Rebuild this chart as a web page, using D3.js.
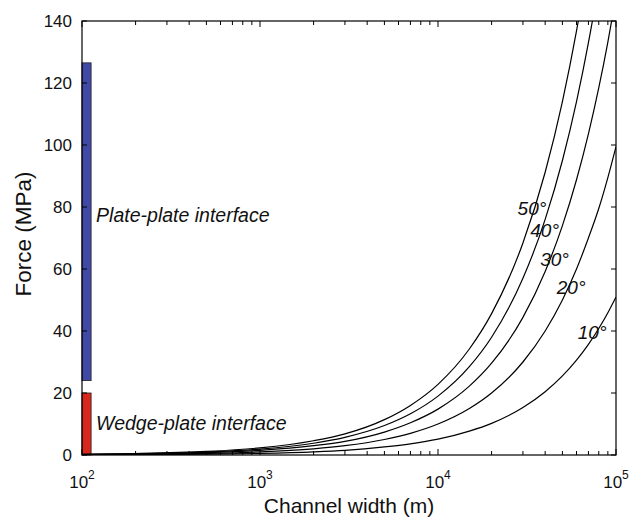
<!DOCTYPE html>
<html>
<head>
<meta charset="utf-8">
<script src="https://cdn.jsdelivr.net/npm/d3@7"></script>
<style>
  html, body { margin: 0; padding: 0; background: #fff; }
  svg { display: block; font-family: "Liberation Sans", Arial, Helvetica, sans-serif; }
</style>
</head>
<body>
<svg id="chart" width="630" height="520"></svg>
<script>
// Channel width (m) sampled along each dip-angle curve
const widths = [100, 200, 500, 1000, 2000, 3000, 5000, 7000, 10000, 15000, 20000,
                30000, 40000, 50000, 60000, 70000, 80000, 90000, 100000];

// Force (MPa) for each channel dip angle
const angles = ["10°", "20°", "30°", "40°", "50°"];
const force10 = [0.05, 0.10, 0.26, 0.51, 1.0, 1.5, 2.6, 3.6, 5.1, 7.7, 10.2, 15.3, 20.4, 25.5, 30.6, 35.7, 40.8, 45.9, 51];
const force20 = [0.10, 0.20, 0.50, 1.0, 2.0, 3.0, 5.0, 7.0, 10.0, 15.0, 20.0, 30.0, 40.0, 50.0, 60.0, 70.0, 79.5, 89.5, 99.5];
const force30 = [0.15, 0.30, 0.74, 1.5, 3.0, 4.4, 7.4, 10.4, 14.8, 22.2, 29.6, 44.4, 59.2, 74.0, 88.8, 103.6, 118.4, 133.2, 148];
const force40 = [0.19, 0.38, 0.95, 1.9, 3.8, 5.7, 9.5, 13.3, 19.0, 28.5, 38.0, 57.0, 76.0, 95.0, 114.0, 133.0, 152.0, 171.0, 190];
const force50 = [0.23, 0.46, 1.14, 2.3, 4.6, 6.8, 11.4, 16.0, 22.8, 34.2, 45.6, 68.4, 91.2, 114.0, 136.8, 159.6, 182.4, 205.2, 228];
const forces = [force10, force20, force30, force40, force50];

// Force ranges of the two interface types
const interfaceNames = ["Plate-plate interface", "Wedge-plate interface"];
const interfaceLow = [24, 0];
const interfaceHigh = [126.5, 20];

// Axis ticks
const xMajorTicks = [100, 1000, 10000, 100000];
const xTickExponents = ["2", "3", "4", "5"];
const yTicks = [0, 20, 40, 60, 80, 100, 120, 140];

const svg = d3.select("#chart");
const margin = { top: 21, right: 14, bottom: 65, left: 82 };
const W = 630, H = 520;
const iw = W - margin.left - margin.right;
const ih = H - margin.top - margin.bottom;

const x = d3.scaleLog().domain([100, 100000]).range([0, iw]);
const y = d3.scaleLinear().domain([0, 140]).range([ih, 0]);

const g = svg.append("g").attr("transform", `translate(${margin.left},${margin.top})`);

g.append("defs").append("clipPath").attr("id", "plotClip")
  .append("rect").attr("x", 0).attr("y", 0).attr("width", iw).attr("height", ih);

// Interface bars
const barColors = ["#4049a6", "#d8281d"];
interfaceNames.forEach((name, i) => {
  g.append("rect")
    .attr("x", x(100))
    .attr("width", x(112.5) - x(100))
    .attr("y", y(interfaceHigh[i]))
    .attr("height", y(interfaceLow[i]) - y(interfaceHigh[i]))
    .attr("fill", barColors[i])
    .attr("stroke", "#222")
    .attr("stroke-width", 0.8);
});

// Dip-angle curves
const line = d3.line()
  .x((d, i) => x(widths[i]))
  .y(d => y(d))
  .curve(d3.curveMonotoneX);

const curves = g.append("g").attr("clip-path", "url(#plotClip)");
forces.forEach(f => {
  curves.append("path")
    .attr("d", line(f))
    .attr("fill", "none")
    .attr("stroke", "#000")
    .attr("stroke-width", 1.2);
});

// Frame
g.append("rect").attr("x", 0).attr("y", 0).attr("width", iw).attr("height", ih)
  .attr("fill", "none").attr("stroke", "#000").attr("stroke-width", 1.2);

// Ticks pointing inward on all four sides
const minorTicks = [];
[100, 1000, 10000].forEach(base => {
  for (let k = 2; k <= 9; k++) minorTicks.push(base * k);
});

const tickG = g.append("g").attr("stroke", "#000").attr("stroke-width", 1);
xMajorTicks.forEach(v => {
  tickG.append("line").attr("x1", x(v)).attr("x2", x(v)).attr("y1", ih).attr("y2", ih - 6);
  tickG.append("line").attr("x1", x(v)).attr("x2", x(v)).attr("y1", 0).attr("y2", 6);
});
minorTicks.forEach(v => {
  tickG.append("line").attr("x1", x(v)).attr("x2", x(v)).attr("y1", ih).attr("y2", ih - 4);
  tickG.append("line").attr("x1", x(v)).attr("x2", x(v)).attr("y1", 0).attr("y2", 4);
});
yTicks.forEach(v => {
  tickG.append("line").attr("x1", 0).attr("x2", 5).attr("y1", y(v)).attr("y2", y(v));
  tickG.append("line").attr("x1", iw).attr("x2", iw - 5).attr("y1", y(v)).attr("y2", y(v));
});

// Y tick labels
yTicks.forEach(v => {
  g.append("text")
    .attr("x", -10).attr("y", y(v)).attr("dy", "0.35em")
    .attr("text-anchor", "end")
    .attr("font-size", 17).attr("fill", "#111")
    .text(v);
});

// X tick labels as powers of ten
xMajorTicks.forEach((v, i) => {
  const t = g.append("text")
    .attr("x", x(v)).attr("y", ih + 33)
    .attr("text-anchor", "middle")
    .attr("font-size", 17).attr("fill", "#111");
  t.append("tspan").text("10");
  t.append("tspan").attr("dy", -9).attr("font-size", 12).text(xTickExponents[i]);
});

// Axis titles
g.append("text")
  .attr("x", iw / 2).attr("y", ih + 58)
  .attr("text-anchor", "middle")
  .attr("font-size", 21).attr("fill", "#111")
  .text("Channel width (m)");

g.append("text")
  .attr("transform", `translate(${-51},${ih / 2 - 4}) rotate(-90)`)
  .attr("text-anchor", "middle")
  .attr("font-size", 22.5).attr("fill", "#111")
  .text("Force (MPa)");

// Interface labels
const interfaceLabelF = [75.2, 8];
interfaceNames.forEach((name, i) => {
  g.append("text")
    .attr("x", x(112.5) + 5).attr("y", y(interfaceLabelF[i]))
    .attr("font-size", 19.5).attr("font-style", "italic").attr("fill", "#111")
    .text(name);
});

// Angle labels placed beside their curves
const angleLabelPos = [
  { w: 61000, f: 37.4 },
  { w: 46500, f: 52 },
  { w: 37500, f: 61 },
  { w: 33000, f: 70.3 },
  { w: 28000, f: 77.3 }
];
angles.forEach((a, i) => {
  g.append("text")
    .attr("x", x(angleLabelPos[i].w)).attr("y", y(angleLabelPos[i].f))
    .attr("font-size", 19).attr("font-style", "italic").attr("fill", "#111")
    .text(a);
});
</script>
</body>
</html>
